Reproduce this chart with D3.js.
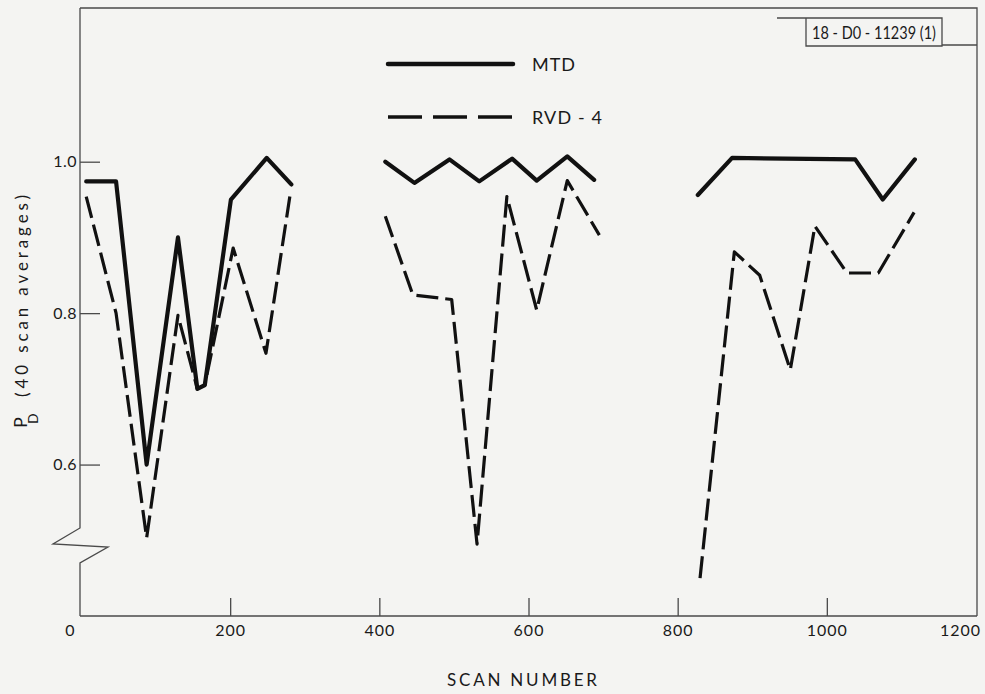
<!DOCTYPE html>
<html>
<head>
<meta charset="utf-8">
<script src="https://cdn.jsdelivr.net/npm/d3@7"></script>
<style>
  html, body { margin: 0; padding: 0; background: #f4f4f2; }
  svg { display: block; }
  text { font-family: Lato, "DejaVu Sans", sans-serif; fill: #1a1a1a; }
</style>
</head>
<body>
<svg id="chart" width="985" height="694"></svg>
<script>
// ---- data ----
const xTicks = [0, 200, 400, 600, 800, 1000, 1200];
const yTicks = [0.6, 0.8, 1.0];

const mtdScan1 = [7, 47, 88, 130, 156, 166, 201, 249, 282];
const mtdPd1   = [0.974, 0.974, 0.600, 0.900, 0.700, 0.705, 0.950, 1.005, 0.970];
const mtdScan2 = [408, 447, 494, 534, 578, 611, 652, 688];
const mtdPd2   = [1.000, 0.972, 1.003, 0.974, 1.004, 0.975, 1.007, 0.976];
const mtdScan3 = [827, 873, 1038, 1075, 1118];
const mtdPd3   = [0.956, 1.005, 1.003, 0.950, 1.003];

const rvdScan1 = [7, 47, 88, 130, 156, 166, 204, 248, 280];
const rvdPd1   = [0.954, 0.800, 0.503, 0.797, 0.700, 0.705, 0.886, 0.747, 0.954];
const rvdScan2 = [408, 445, 497, 531, 571, 611, 652, 695];
const rvdPd2   = [0.928, 0.824, 0.818, 0.495, 0.954, 0.804, 0.975, 0.903];
const rvdScan3 = [830, 876, 910, 951, 984, 1027, 1069, 1117];
const rvdPd3   = [0.450, 0.881, 0.850, 0.725, 0.915, 0.853, 0.853, 0.933];

const seriesNames = ["MTD", "RVD-4"];

// ---- layout ----
const svg = d3.select("#chart");
const pLeft = 81, pRight = 977, pTop = 8, pBottom = 616;
const x = d3.scaleLinear().domain([0, 1200]).range([pLeft, 976]);
const y = d3.scaleLinear().domain([0.4, 1.203]).range([pBottom, pTop]);

const axisColor = "#4a4a4a";

// frame top + right
svg.append("path")
  .attr("d", `M${pLeft - 1},${pTop} L${pRight},${pTop} L${pRight},${pBottom}`)
  .attr("fill", "none").attr("stroke", axisColor).attr("stroke-width", 1.3);

// left axis with break
svg.append("path")
  .attr("d", `M${pLeft - 1},${pTop} L${pLeft - 1},528 L53,544 L108,547 L${pLeft - 1},563 L${pLeft - 1},${pBottom}`)
  .attr("fill", "none").attr("stroke", axisColor).attr("stroke-width", 1.3);

// x axis
const gx = svg.append("g").attr("transform", `translate(0,${pBottom})`)
  .call(d3.axisBottom(x).tickValues(xTicks).tickSize(-18).tickPadding(9).tickFormat(d3.format("d")));
gx.select(".domain").attr("stroke", axisColor).attr("stroke-width", 1.3)
  .attr("d", `M${pLeft - 1},0H${pRight}`);
gx.selectAll(".tick line").attr("stroke", axisColor).attr("stroke-width", 1.3)
  .attr("display", d => (d === 0 || d === 1200) ? "none" : null);
gx.selectAll(".tick text").attr("font-size", 16).attr("letter-spacing", 1)
  .attr("fill", "#1a1a1a").attr("font-family", "Lato, sans-serif")
  .attr("x", d => d === 0 ? -11 : d === 1200 ? -16 : 0);

// y axis
const gy = svg.append("g").attr("transform", `translate(${pLeft - 1},0)`)
  .call(d3.axisLeft(y).tickValues(yTicks).tickSize(-20).tickPadding(3).tickFormat(d3.format(".1f")));
gy.select(".domain").remove();
gy.selectAll(".tick line").attr("stroke", axisColor).attr("stroke-width", 1.3);
gy.selectAll(".tick text").attr("font-size", 16).attr("letter-spacing", 0.5)
  .attr("fill", "#1a1a1a").attr("font-family", "Lato, sans-serif");

// ---- lines ----
const line = d3.line().x(d => x(d[0])).y(d => y(d[1]));
const zip = (a, b) => a.map((v, i) => [v, b[i]]);

[[mtdScan1, mtdPd1], [mtdScan2, mtdPd2], [mtdScan3, mtdPd3]].forEach(([s, p]) => {
  svg.append("path").attr("d", line(zip(s, p)))
    .attr("fill", "none").attr("stroke", "#111").attr("stroke-width", 4.2)
    .attr("stroke-linejoin", "round").attr("stroke-linecap", "round");
});
[[rvdScan1, rvdPd1], [rvdScan2, rvdPd2], [rvdScan3, rvdPd3]].forEach(([s, p]) => {
  svg.append("path").attr("d", line(zip(s, p)))
    .attr("fill", "none").attr("stroke", "#111").attr("stroke-width", 3.2)
    .attr("stroke-dasharray", "22,7")
    .attr("stroke-linejoin", "round");
});

// ---- legend ----
svg.append("line").attr("x1", 388).attr("x2", 513).attr("y1", 64).attr("y2", 64)
  .attr("stroke", "#111").attr("stroke-width", 4.5).attr("stroke-linecap", "round");
svg.append("line").attr("x1", 388).attr("x2", 513).attr("y1", 117).attr("y2", 117)
  .attr("stroke", "#111").attr("stroke-width", 3.5).attr("stroke-dasharray", "34,11");
svg.append("text").attr("x", 532).attr("y", 71).attr("font-size", 18)
  .attr("textLength", 43).attr("lengthAdjust", "spacing").text(seriesNames[0]);
svg.append("text").attr("x", 532).attr("y", 124).attr("font-size", 18)
  .attr("textLength", 70).attr("lengthAdjust", "spacing").text("RVD - 4");

// ---- id box ----
svg.append("path")
  .attr("d", "M777,18 L942,18 L942,46 L806,46 L806,18 M942,45 L977,45")
  .attr("fill", "none").attr("stroke", axisColor).attr("stroke-width", 1.3);
svg.append("text").attr("x", 812).attr("y", 38.5)
  .attr("font-family", "'DejaVu Sans Condensed', 'DejaVu Sans', sans-serif")
  .attr("font-size", 16.5).attr("textLength", 124).attr("lengthAdjust", "spacingAndGlyphs")
  .text("18 - D0 - 11239 (1)");

// ---- axis titles ----
svg.append("text").attr("x", 522).attr("y", 686).attr("text-anchor", "middle")
  .attr("font-size", 17).attr("textLength", 150).attr("lengthAdjust", "spacing")
  .text("SCAN NUMBER");

svg.append("text").attr("transform", "translate(27,428) rotate(-90)")
  .attr("font-size", 18).text("P");
svg.append("text").attr("transform", "translate(38,424) rotate(-90)")
  .attr("font-size", 14).text("D");
svg.append("text").attr("transform", "translate(28,397) rotate(-90)")
  .attr("font-size", 17).attr("textLength", 202).attr("lengthAdjust", "spacing")
  .text("(40 scan averages)");
</script>
</body>
</html>
